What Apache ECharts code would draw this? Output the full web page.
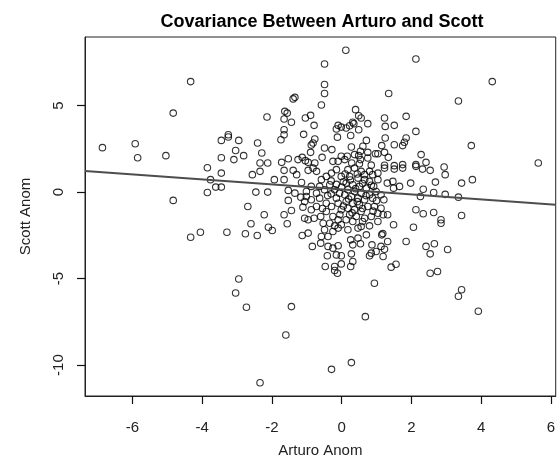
<!DOCTYPE html>
<html>
<head>
<meta charset="utf-8">
<script src="https://cdn.jsdelivr.net/npm/echarts@6/dist/echarts.min.js"></script>
<style>
  html, body { margin: 0; padding: 0; background: #fff; }
  #chart { width: 558px; height: 463px; }
</style>
</head>
<body>
<div id="chart"></div>
<script>
// x = Arturo anomaly, y = Scott anomaly
const points = [
  [-6.86, 2.57], [-5.92, 2.80], [-5.85, 1.99], [-5.04, 2.11], [-4.83, 4.57], [-4.33, 6.39], [-4.83, -0.48],
  [-3.25, 3.32], [-3.25, 3.19], [-3.45, 2.99], [-2.95, 2.99], [-3.04, 2.41], [-3.45, 1.99], [-3.09, 1.88],
  [-2.81, 2.11], [-3.85, 1.41], [-3.45, 1.10], [-3.76, 0.72], [-3.61, 0.29], [-3.45, 0.29], [-3.85, -0.02],
  [-2.69, -0.83], [-4.33, -2.61], [-4.05, -2.32], [-3.29, -2.32], [-2.76, -2.41], [-2.95, -5.02],
  [-3.04, -5.83], [-2.73, -6.66],
  [0.12, 8.20], [-0.49, 7.41], [-0.49, 6.22], [-0.49, 5.70], [-0.58, 5.04], [-1.34, 5.48], [-1.39, 5.39],
  [-2.14, 4.34], [-1.63, 4.67], [-1.56, 4.57], [-1.65, 4.23], [-1.44, 4.04], [-1.04, 4.29], [-0.89, 4.44],
  [-0.79, 3.86], [-1.65, 3.61], [-1.65, 3.32], [-1.74, 3.03], [-1.09, 3.34], [-2.41, 2.84], [-0.10, 3.86],
  [-0.01, 3.76], [-0.15, 3.65], [-0.12, 3.18], [-0.77, 3.07], [-0.82, 2.84], [-0.87, 2.72], [-0.49, 2.55],
  [-0.28, 2.46], [-0.89, 2.30], [-2.29, 2.26], [-0.56, 2.01], [-0.01, 2.07], [-1.53, 1.93], [-1.72, 1.72],
  [-2.34, 1.68], [-2.12, 1.68], [-1.25, 1.88], [-1.13, 2.01], [-1.04, 1.82], [-0.96, 1.72], [-0.77, 1.68],
  [-0.25, 1.78], [-0.10, 1.78],
  [-2.56, 1.01], [-2.34, 1.20], [-1.65, 1.26], [-1.39, 1.26], [-1.93, 0.72], [-1.65, 0.72], [-1.29, 1.01],
  [-0.96, 1.26], [-0.82, 1.39], [-1.15, 0.56], [-2.46, 0.00], [-2.12, 0.00], [-1.53, 0.10], [-1.34, -0.06],
  [-1.53, -0.48], [-1.17, -0.29], [-1.01, -0.25], [-1.06, -0.54], [-0.87, -0.44], [-0.72, -0.06],
  [-1.11, -0.87], [-1.44, -1.06], [-1.65, -1.31], [-2.22, -1.31], [-0.87, -1.02], [-0.72, -0.83],
  [-1.06, -1.51], [-0.96, -1.60], [-0.79, -1.51], [-0.60, -1.41], [-1.56, -1.83], [-2.60, -1.83],
  [-2.10, -2.03], [-1.99, -2.22], [-2.42, -2.51], [-1.13, -2.51], [-0.96, -2.37], [-0.49, -2.18],
  [-0.58, -2.57], [-0.39, -2.57], [-0.25, -2.28], [-0.10, -2.08], [-0.84, -3.14], [-0.60, -2.95],
  [-0.39, -3.14], [-0.25, -3.24], [-0.10, -3.10], [-0.41, -3.68], [-0.15, -3.63], [-0.01, -3.68],
  [-0.47, -4.30], [-0.20, -4.30], [-0.01, -4.15], [-0.12, -4.69], [-0.20, -4.53],
  [-0.72, 1.20], [-0.58, 0.72], [-0.44, 0.91], [-0.29, 1.10], [-0.15, 1.30], [-0.01, 0.91], [-0.34, 0.43],
  [-0.20, 0.14], [-0.06, -0.06], [-0.49, 0.14], [-0.63, -0.35], [-0.44, -0.64], [-0.29, -0.83],
  [-0.10, -0.64], [-0.01, -1.02], [-0.44, -1.12], [-0.25, -1.41], [-0.10, -1.60], [-0.34, -1.80],
  [-0.20, -1.95], [-0.01, -1.89], [-0.53, -1.80], [-0.87, 0.33], [-1.01, 0.04], [-0.63, 0.33],
  [-1.44, -6.62], [-1.60, -8.26], [-0.29, -10.25], [-2.34, -11.02],
  [2.13, 7.70], [1.35, 5.70], [0.40, 4.77], [0.49, 4.42], [0.56, 4.29], [0.32, 4.04], [0.35, 3.96],
  [0.23, 3.84], [0.13, 3.71], [0.75, 3.96], [0.49, 3.61], [0.26, 3.27], [1.23, 4.29], [1.85, 4.38],
  [1.25, 3.80], [1.51, 3.86], [2.13, 3.51], [1.85, 3.13], [1.80, 2.88], [1.75, 2.69], [1.51, 2.74],
  [1.25, 3.13], [1.15, 2.69], [0.71, 2.99], [0.61, 2.65], [0.28, 2.61], [1.23, 2.30], [1.04, 2.22],
  [0.97, 2.22], [0.75, 2.30], [0.54, 2.36], [0.49, 2.11], [0.37, 2.17], [0.16, 2.07], [0.54, 1.88],
  [0.75, 1.97], [1.34, 2.01], [2.28, 2.17], [2.42, 1.72], [2.13, 1.59], [1.75, 1.59], [1.51, 1.53],
  [1.23, 1.55], [0.85, 1.56], [0.29, 1.68], [0.51, 1.64], [0.09, 1.88],
  [1.23, 1.39], [1.51, 1.33], [1.75, 1.39], [2.13, 1.49], [2.32, 1.33], [2.54, 1.26], [0.80, 1.20],
  [1.04, 0.72], [1.31, 0.52], [1.47, 0.62], [1.66, 0.33], [1.98, 0.52], [1.49, 0.23], [2.34, 0.17],
  [2.69, 0.58], [2.64, -0.02], [2.26, -0.25], [0.92, 0.33], [1.21, -0.44], [2.13, -1.02], [2.34, -1.25],
  [2.64, -1.18], [2.85, -1.60], [2.85, -1.80], [1.49, -1.89], [2.06, -2.03], [1.04, -1.22], [1.19, -1.31],
  [1.32, -1.31], [0.85, -1.41], [0.66, -1.51], [1.04, -1.70], [0.80, -1.95], [0.56, -1.99], [1.15, -2.47],
  [1.18, -2.40], [1.32, -2.86], [1.85, -2.86], [0.26, -2.76], [0.47, -2.66], [0.54, -2.99], [0.32, -3.05],
  [0.87, -3.05], [1.13, -3.14], [1.23, -3.30], [0.99, -3.43], [0.85, -3.53], [2.42, -3.14], [2.66, -2.99],
  [2.54, -3.57], [0.28, -3.57], [0.80, -3.68], [1.19, -3.72], [0.26, -4.30], [0.32, -4.01], [1.42, -4.34],
  [1.56, -4.17], [2.54, -4.69], [2.75, -4.59], [0.94, -5.27],
  [0.18, 1.30], [0.37, 1.39], [0.56, 1.20], [0.23, 0.91], [0.47, 0.81], [0.66, 0.72], [0.80, 0.62],
  [0.13, 0.52], [0.32, 0.43], [0.51, 0.33], [0.71, 0.23], [0.18, 0.14], [0.37, 0.04], [0.56, -0.06],
  [0.09, -0.15], [0.28, -0.25], [0.47, -0.35], [0.66, -0.44], [0.89, -0.35], [0.13, -0.54], [0.32, -0.64],
  [0.51, -0.73], [0.75, -0.83], [0.18, -0.93], [0.37, -1.02], [0.56, -1.12], [0.23, -1.31], [0.42, -1.41],
  [0.13, -1.60], [0.32, -1.70], [0.47, -2.08], [0.18, -2.18], [0.71, -2.47], [0.94, -0.83], [1.13, -0.93],
  [0.99, 0.04], [1.13, -0.15], [0.80, -0.15], [0.89, 1.01], [1.04, 1.10], [0.66, 1.01],
  [0.05, 0.60], [0.25, 0.70], [0.60, 0.50], [0.40, 0.20], [0.00, 0.30], [0.20, -0.40], [0.45, -0.55],
  [0.70, -0.20], [0.05, -0.80], [0.30, -1.20], [0.60, -0.95], [0.10, 1.05], [0.45, 1.05], [-0.30, 0.65],
  [-0.15, 0.45], [-0.40, -0.20], [-0.15, -0.35], [0.85, 0.40], [1.00, -0.50], [0.60, -1.70],
  [-0.05, -1.30], [0.90, -1.10], [-0.55, -0.95], [-0.30, -0.10],
  [0.68, -7.20], [0.28, -9.86],
  [4.32, 6.39], [3.35, 5.27], [3.72, 2.69], [5.64, 1.68], [2.94, 1.45], [2.97, 1.01], [3.44, 0.52],
  [3.75, 0.72], [2.97, -0.13], [3.35, -0.29], [3.44, -1.35], [3.04, -3.32], [3.44, -5.65], [3.35, -6.02],
  [3.92, -6.89]
];

const xTicks = [-6, -4, -2, 0, 2, 4, 6];
const yTicks = [-10, -5, 0, 5];

// least squares fit (abline)
const fitIntercept = 0.157;
const fitSlope = -0.144;

const X_MIN = -7.36, X_MAX = 6.14;
const Y_MIN = -11.79, Y_MAX = 8.97;

const fitLine = [X_MIN, X_MAX].map((x) => [x, fitIntercept + fitSlope * x]);

const FONT = '"Liberation Sans", Arial, sans-serif';
const INK = '#222';

const chart = echarts.init(document.getElementById('chart'));

chart.setOption({
  animation: false,
  title: {
    text: 'Covariance Between Arturo and Scott',
    left: 317,
    top: 8,
    textAlign: 'center',
    textStyle: { fontFamily: FONT, fontSize: 18, fontWeight: 'bold', color: '#000' },
  },
  grid: {
    left: 85,
    right: 1,
    top: 37,
    bottom: 67,
    show: true,
    borderColor: '#222',
    borderWidth: 1,
  },
  xAxis: {
    type: 'value',
    min: X_MIN,
    max: X_MAX,
    name: 'Arturo Anom',
    nameLocation: 'middle',
    nameGap: 47,
    nameTextStyle: { fontFamily: FONT, fontSize: 15, color: INK },
    splitLine: { show: false },
    axisLine: { show: true, onZero: false, lineStyle: { color: '#222', width: 1 } },
    axisTick: { show: true, length: 8, customValues: xTicks, lineStyle: { color: '#111', width: 1.2 } },
    axisLabel: { customValues: xTicks, margin: 24, fontFamily: FONT, fontSize: 15, color: INK },
  },
  yAxis: {
    type: 'value',
    min: Y_MIN,
    max: Y_MAX,
    name: 'Scott Anom',
    nameLocation: 'middle',
    nameGap: 52,
    nameTextStyle: { fontFamily: FONT, fontSize: 15, color: INK },
    splitLine: { show: false },
    axisLine: { show: true, onZero: false, lineStyle: { color: '#222', width: 1 } },
    axisTick: { show: true, length: 8, customValues: yTicks, lineStyle: { color: '#111', width: 1.2 } },
    axisLabel: { customValues: yTicks, rotate: 90, margin: 19, fontFamily: FONT, fontSize: 15, color: INK },
  },
  series: [
    {
      type: 'scatter',
      data: points,
      symbol: 'circle',
      symbolSize: 6.5,
      itemStyle: { color: 'rgba(0,0,0,0)', borderColor: '#000', borderWidth: 1.1 },
    },
    {
      type: 'line',
      data: fitLine,
      symbol: 'none',
      lineStyle: { color: '#4d4d4d', width: 2 },
    },
  ],
});
</script>
</body>
</html>
